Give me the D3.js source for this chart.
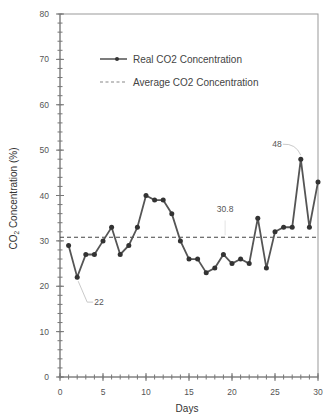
<!DOCTYPE html>
<html>
<head>
<meta charset="utf-8">
<script src="https://cdn.jsdelivr.net/npm/d3@7"></script>
<style>
  body { margin: 0; background: #fff; }
  svg { -webkit-font-smoothing: antialiased; }
  text { font-family: "Liberation Sans", "DejaVu Sans", sans-serif; fill: #555; }
</style>
</head>
<body>
<div id="chart"></div>
<script>
const days = d3.range(1, 31);
const co2 = [29, 22, 27, 27, 30, 33, 27, 29, 33, 40, 39, 39, 36, 30, 26, 26, 23, 24, 27, 25, 26, 25, 35, 24, 32, 33, 33, 48, 33, 43];
const average = 30.8;
const xTicks = [0, 5, 10, 15, 20, 25, 30];
const yTicks = [0, 10, 20, 30, 40, 50, 60, 70, 80];
const seriesNames = ["Real CO2 Concentration", "Average CO2 Concentration"];

const width = 324, height = 419;
const margin = { top: 14, right: 6, bottom: 42, left: 60 };

const svg = d3.select("#chart").append("svg")
  .attr("width", width)
  .attr("height", height);

const x = d3.scaleLinear().domain([0, 30]).range([margin.left, width - margin.right]);
const y = d3.scaleLinear().domain([0, 80]).range([height - margin.bottom, margin.top]);

const axisColor = "#777";

// box (top and right edges)
svg.append("rect")
  .attr("x", x(0)).attr("y", y(80))
  .attr("width", x(30) - x(0)).attr("height", y(0) - y(80))
  .attr("fill", "none").attr("stroke", "#999").attr("stroke-width", 1);

// minor ticks cross the axes
const gx = svg.append("g");
gx.selectAll("line.minor").data(d3.range(0, 31)).enter().append("line")
  .attr("x1", d => x(d)).attr("x2", d => x(d))
  .attr("y1", y(0) - 2.5).attr("y2", y(0) + 2.5)
  .attr("stroke", axisColor);
gx.selectAll("line.major").data(xTicks).enter().append("line")
  .attr("x1", d => x(d)).attr("x2", d => x(d))
  .attr("y1", y(0) - 4).attr("y2", y(0) + 4)
  .attr("stroke", axisColor);
gx.append("line")
  .attr("x1", x(0)).attr("x2", x(30)).attr("y1", y(0)).attr("y2", y(0))
  .attr("stroke", axisColor);
gx.selectAll("text").data(xTicks).enter().append("text")
  .attr("x", d => x(d)).attr("y", y(0) + 18)
  .attr("text-anchor", "middle")
  .style("font-size", "8.5px")
  .text(d => d);

const gy = svg.append("g");
gy.selectAll("line.minor").data(d3.range(0, 81, 2)).enter().append("line")
  .attr("x1", x(0) - 2.5).attr("x2", x(0) + 2.5)
  .attr("y1", d => y(d)).attr("y2", d => y(d))
  .attr("stroke", axisColor);
gy.selectAll("line.major").data(yTicks).enter().append("line")
  .attr("x1", x(0) - 4).attr("x2", x(0) + 4)
  .attr("y1", d => y(d)).attr("y2", d => y(d))
  .attr("stroke", axisColor);
gy.append("line")
  .attr("x1", x(0)).attr("x2", x(0)).attr("y1", y(0)).attr("y2", y(80))
  .attr("stroke", axisColor);
gy.selectAll("text").data(yTicks).enter().append("text")
  .attr("x", x(0) - 11).attr("y", d => y(d) + 3)
  .attr("text-anchor", "end")
  .style("font-size", "8.5px")
  .text(d => d);

// axis titles
svg.append("text")
  .attr("x", (x(0) + x(30)) / 2 - 2).attr("y", height - 7)
  .attr("text-anchor", "middle")
  .style("font-size", "10px")
  .style("fill", "#333")
  .text("Days");

const yTitle = svg.append("text")
  .attr("transform", `translate(17,${(y(0) + y(80)) / 2 + 3}) rotate(-90)`)
  .attr("text-anchor", "middle")
  .style("font-size", "10px")
  .style("fill", "#333");
yTitle.append("tspan").text("CO");
yTitle.append("tspan").attr("dy", 2).style("font-size", "6.5px").text("2");
yTitle.append("tspan").attr("dy", -2).text(" Concentration (%)");

// average line
svg.append("line")
  .attr("x1", x(0)).attr("x2", x(30))
  .attr("y1", y(average)).attr("y2", y(average))
  .attr("stroke", "#444").attr("stroke-width", 1.2)
  .attr("stroke-dasharray", "4,3");

// series
const line = d3.line().x((d, i) => x(days[i])).y(d => y(d));
svg.append("path")
  .datum(co2)
  .attr("d", line)
  .attr("fill", "none")
  .attr("stroke", "#555")
  .attr("stroke-width", 1.8);

svg.selectAll("circle.pt").data(co2).enter().append("circle")
  .attr("class", "pt")
  .attr("cx", (d, i) => x(days[i])).attr("cy", d => y(d))
  .attr("r", 2.5)
  .attr("fill", "#333");

// annotations
const minIdx = co2.indexOf(d3.min(co2));
const maxIdx = co2.indexOf(d3.max(co2));
svg.append("path")
  .attr("d", `M${x(days[minIdx]) + 1},${y(co2[minIdx]) + 4} L${x(days[minIdx]) + 10},${y(16.5)} L${x(days[minIdx]) + 16},${y(16.5)}`)
  .attr("fill", "none").attr("stroke", "#bbb").attr("stroke-width", 0.8);
svg.append("text")
  .attr("x", x(days[minIdx]) + 17).attr("y", y(16.5) + 3)
  .style("font-size", "8.5px")
  .text(d3.min(co2));

svg.append("path")
  .attr("d", `M${x(days[maxIdx]) - 18},${y(51.3)} Q${x(days[maxIdx]) - 5},${y(51.5)} ${x(days[maxIdx])},${y(co2[maxIdx]) - 4}`)
  .attr("fill", "none").attr("stroke", "#bbb").attr("stroke-width", 0.8);
svg.append("text")
  .attr("x", x(days[maxIdx]) - 19).attr("y", y(51.3) + 3)
  .attr("text-anchor", "end")
  .style("font-size", "8.5px")
  .text(d3.max(co2));

svg.append("line")
  .attr("x1", x(19.2)).attr("x2", x(19.2))
  .attr("y1", y(34.5)).attr("y2", y(average) - 2)
  .attr("stroke", "#ddd").attr("stroke-width", 0.8);
svg.append("text")
  .attr("x", x(19.2)).attr("y", y(36.3))
  .attr("text-anchor", "middle")
  .style("font-size", "8.5px")
  .text(average);

// legend
const legend = svg.selectAll(".legend").data(seriesNames).enter().append("g")
  .attr("class", "legend")
  .attr("transform", (d, i) => `translate(100,${59 + i * 23})`);
legend.append("line")
  .attr("x1", 0).attr("x2", 27)
  .attr("stroke", (d, i) => i === 0 ? "#444" : "#888")
  .attr("stroke-width", (d, i) => i === 0 ? 1.4 : 1.2)
  .attr("stroke-dasharray", (d, i) => i === 0 ? null : "3,2.5");
legend.filter((d, i) => i === 0).append("circle")
  .attr("cx", 17).attr("r", 2).attr("fill", "#333");
legend.append("text")
  .attr("x", 33).attr("y", 3.5)
  .style("font-size", "10px")
  .style("fill", "#444")
  .text(d => d);
</script>
</body>
</html>
